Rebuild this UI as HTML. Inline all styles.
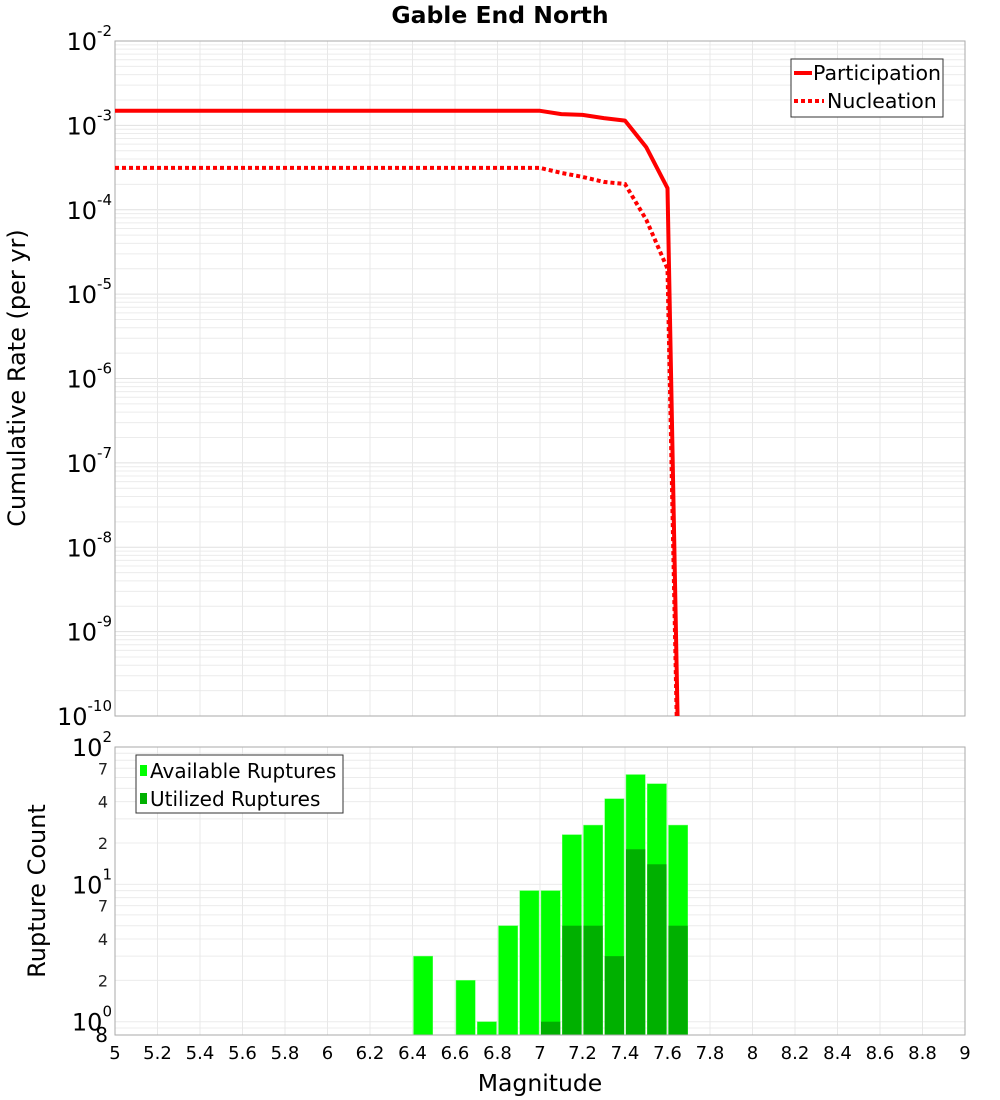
<!DOCTYPE html>
<html><head><meta charset="utf-8"><style>
html,body{margin:0;background:#fff;width:1000px;height:1100px;overflow:hidden;}
svg{display:block;font-family:"DejaVu Sans","Liberation Sans",sans-serif;}
</style></head><body>
<svg id="c" width="1000" height="1100" viewBox="0 0 1000 1100"></svg>
<script>
const mags=[5,5.1,5.2,5.3,5.4,5.5,5.6,5.7,5.8,5.9,6,6.1,6.2,6.3,6.4,6.5,6.6,6.7,6.8,6.9,7,7.1,7.2,7.3,7.4,7.5,7.6,7.7];
const participation=[1.49e-3,1.49e-3,1.49e-3,1.49e-3,1.49e-3,1.49e-3,1.49e-3,1.49e-3,1.49e-3,1.49e-3,1.49e-3,1.49e-3,1.49e-3,1.49e-3,1.49e-3,1.49e-3,1.49e-3,1.49e-3,1.49e-3,1.49e-3,1.49e-3,1.36e-3,1.33e-3,1.22e-3,1.14e-3,5.5e-4,1.8e-4,1e-17];
const nucleation=[3.13e-4,3.13e-4,3.13e-4,3.13e-4,3.13e-4,3.13e-4,3.13e-4,3.13e-4,3.13e-4,3.13e-4,3.13e-4,3.13e-4,3.13e-4,3.13e-4,3.13e-4,3.13e-4,3.13e-4,3.13e-4,3.13e-4,3.13e-4,3.13e-4,2.73e-4,2.45e-4,2.14e-4,2.02e-4,7.6e-5,2e-5,1e-17];
const binStarts=[6.4,6.6,6.7,6.8,6.9,7.0,7.1,7.2,7.3,7.4,7.5,7.6];
const available=[3,2,1,5,9,9,23,27,42,63,54,27];
const utilized=[0,0,0,0,0,1,5,5,3,18,14,5];
const xTicks=[5,5.2,5.4,5.6,5.8,6,6.2,6.4,6.6,6.8,7,7.2,7.4,7.6,7.8,8,8.2,8.4,8.6,8.8,9];
const topExp=[-2,-3,-4,-5,-6,-7,-8,-9,-10];

const NS="http://www.w3.org/2000/svg";
const svg=document.getElementById('c');
function el(t,a,p){const e=document.createElementNS(NS,t);for(const k in a)e.setAttribute(k,a[k]);(p||svg).appendChild(e);return e;}
const X0=115,X1=965;
const x=m=>X0+(m-5)/4*(X1-X0);
const T0=41,T1=716;
const yTop=v=>T0+(-2-Math.log10(v))/8*(T1-T0);
const B0=747,B1=1035,Bmin=Math.log10(0.8);
const yBot=v=>B0+(2-Math.log10(v))/(2-Bmin)*(B1-B0);

let t=el('text',{x:500,y:23,'text-anchor':'middle','font-size':23.5,'font-weight':'bold'});t.textContent='Gable End North';


const gTop=el('g',{});

for(let e=-10;e<-2;e++)for(let k=1;k<10;k++){const yy=yTop(k*Math.pow(10,e));el('line',{x1:X0,x2:X1,y1:yy,y2:yy,stroke:k==1?'#e0e0e0':'#ececec','stroke-width':1},gTop);}
xTicks.forEach(m=>{el('line',{x1:x(m),x2:x(m),y1:T0,y2:T1,stroke:'#e8e8e8'},gTop);});
let r=el('rect',{x:X0,y:T0,width:X1-X0,height:T1-T0,fill:'none',stroke:'#aaa'});


topExp.forEach(e=>{const g=el('text',{x:112,y:yTop(Math.pow(10,e))+9,'text-anchor':'end','font-size':24});

const a=el('tspan',{},g);a.textContent='10';const b=el('tspan',{dy:-14,'font-size':15},g);b.textContent=String(e);});
t=el('text',{transform:'translate(25,378) rotate(-90)','text-anchor':'middle','font-size':24});t.textContent='Cumulative Rate (per yr)';


const defs=el('defs',{});
const cp=el('clipPath',{id:'ct'},defs);el('rect',{x:X0,y:T0,width:X1-X0,height:T1-T0},cp);
function pts(arr){return mags.map((m,i)=>x(m).toFixed(1)+','+yTop(arr[i]).toFixed(1)).join(' ');}
let p=el('polyline',{points:pts(participation),fill:'none',stroke:'#ff0000','stroke-width':4,'clip-path':'url(#ct)','stroke-linejoin':'round'});

p=el('polyline',{points:pts(nucleation),fill:'none',stroke:'#ff0000','stroke-width':4,'stroke-dasharray':'4,3','clip-path':'url(#ct)'});


const lg=el('g',{});
el('rect',{x:791,y:59,width:152,height:58,fill:'#fff',stroke:'#333'},lg);
el('line',{x1:794,x2:812,y1:73,y2:73,stroke:'#f00','stroke-width':4},lg);
el('line',{x1:794,x2:824,y1:101,y2:101,stroke:'#f00','stroke-width':4,'stroke-dasharray':'4,3'},lg);
t=el('text',{x:813,y:80,'font-size':20.5},lg);t.textContent='Participation';

t=el('text',{x:827,y:108,'font-size':20.5},lg);t.textContent='Nucleation';


const gB=el('g',{});
[0.8,0.9,1,2,3,4,5,6,7,8,9,10,20,30,40,50,60,70,80,90].forEach(v=>{const yy=yBot(v);el('line',{x1:X0,x2:X1,y1:yy,y2:yy,stroke:'#ececec'},gB);});
xTicks.forEach(m=>{el('line',{x1:x(m),x2:x(m),y1:B0,y2:B1,stroke:'#e8e8e8'},gB);});

const gBar=el('g',{});
const bw=x(5.1)-x(5);
binStarts.forEach((m,i)=>{
 const b=el('rect',{x:x(m)+1,y:yBot(available[i]),width:bw-2,height:B1-yBot(available[i]),fill:'#00ff00',stroke:'#66ff66','stroke-width':0.5},gBar);
 
 if(utilized[i]>0){const u=el('rect',{x:x(m)+1,y:yBot(utilized[i]),width:bw-2,height:B1-yBot(utilized[i]),fill:'#00b000'},gBar);
 }
});
r=el('rect',{x:X0,y:B0,width:X1-X0,height:B1-B0,fill:'none',stroke:'#aaa'});


[[100,'2'],[10,'1'],[1,'0']].forEach(([v,e])=>{const g=el('text',{x:112,y:yBot(v)+9,'text-anchor':'end','font-size':24});

const a=el('tspan',{},g);a.textContent='10';const b=el('tspan',{dy:-14,'font-size':15},g);b.textContent=e;});
[[70,'7'],[40,'4'],[20,'2'],[7,'7'],[4,'4'],[2,'2']].forEach(([v,s])=>{const g=el('text',{x:108,y:yBot(v)+6,'text-anchor':'end','font-size':16,fill:'#222'});g.textContent=s;
});
t=el('text',{x:108,y:1042,'text-anchor':'end','font-size':20});t.textContent='8';

t=el('text',{transform:'translate(45,891) rotate(-90)','text-anchor':'middle','font-size':24});t.textContent='Rupture Count';


xTicks.forEach(m=>{const g=el('text',{x:x(m),y:1059,'text-anchor':'middle','font-size':18});g.textContent=String(m);
});
t=el('text',{x:540,y:1091,'text-anchor':'middle','font-size':23.5});t.textContent='Magnitude';


const bl=el('g',{});
el('rect',{x:136,y:755,width:207,height:58,fill:'#fff',stroke:'#333'},bl);
el('rect',{x:140,y:765,width:7,height:11,fill:'#00ff00'},bl);
el('rect',{x:140,y:793,width:7,height:11,fill:'#00b000'},bl);
t=el('text',{x:150,y:778,'font-size':20},bl);t.textContent='Available Ruptures';

t=el('text',{x:150,y:806,'font-size':20},bl);t.textContent='Utilized Ruptures';

</script>
</body></html>
